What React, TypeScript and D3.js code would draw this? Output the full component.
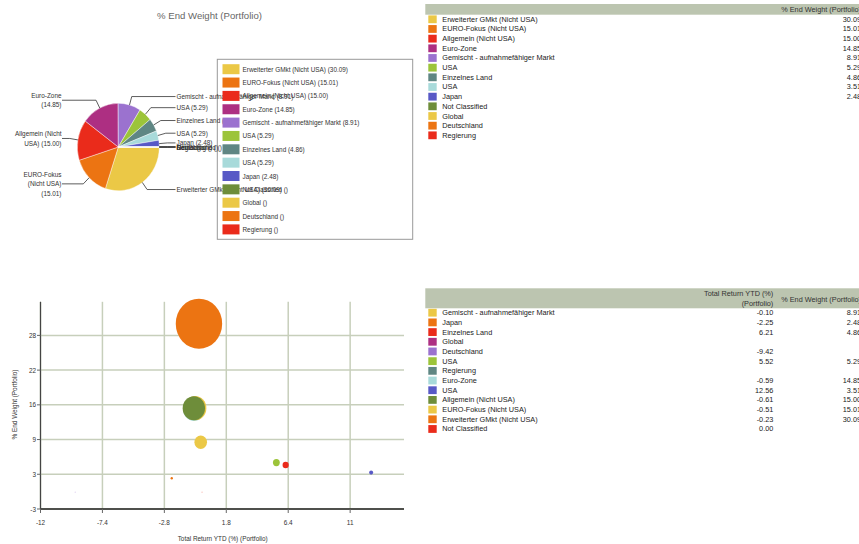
import React from 'react';
import * as d3 from 'd3';

// ---------- Data ----------
const pieNames = [
  'Erweiterter GMkt (Nicht USA)', 'EURO-Fokus (Nicht USA)', 'Allgemein (Nicht USA)', 'Euro-Zone',
  'Gemischt - aufnahmefähiger Markt', 'USA', 'Einzelnes Land', 'USA', 'Japan',
  'Not Classified', 'Global', 'Deutschland', 'Regierung',
];
const pieWeights = [30.09, 15.01, 15.0, 14.85, 8.91, 5.29, 4.86, 3.51, 2.48, 0, 0, 0, 0];
const pieLabelValues = ['30.09', '15.01', '15.00', '14.85', '8.91', '5.29', '4.86', '5.29', '2.48', '', '', '', ''];
const topTableValues = ['30.09', '15.01', '15.00', '14.85', '8.91', '5.29', '4.86', '3.51', '2.48', '', '', '', ''];
const palette = [
  '#ebc846', '#ec7412', '#ea2b1b', '#ad2f82', '#9b72cf', '#9cc43a', '#5f8683',
  '#a8dada', '#5859c6', '#6e8d3a', '#ebc846', '#ec7412', '#ea2b1b',
];

const scNames = [
  'Gemischt - aufnahmefähiger Markt', 'Japan', 'Einzelnes Land', 'Global', 'Deutschland', 'USA',
  'Regierung', 'Euro-Zone', 'USA', 'Allgemein (Nicht USA)', 'EURO-Fokus (Nicht USA)',
  'Erweiterter GMkt (Nicht USA)', 'Not Classified',
];
const scReturns: (number | null)[] = [-0.1, -2.25, 6.21, null, -9.42, 5.52, null, -0.59, 12.56, -0.61, -0.51, -0.23, 0.0];
const scWeights: (number | null)[] = [8.91, 2.48, 4.86, null, null, 5.29, null, 14.85, 3.51, 15.0, 15.01, 30.09, null];
const bubbleOrder = [7, 10, 9, 11, 0, 5, 2, 8, 1, 4, 12];

const xTicks = [-12, -7.4, -2.8, 1.8, 6.4, 11];
const xTickLabels = ['-12', '-7.4', '-2.8', '1.8', '6.4', '11'];
const yTicks = [-3, 3.2, 9.4, 15.6, 21.8, 28];
const yTickLabels = ['-3', '3', '9', '16', '22', '28'];

const FONT = "'Liberation Sans', Arial, sans-serif";

function measure(text: string, size: number) {
  const c = document.createElement('canvas').getContext('2d');
  if (!c) return text.length * size * 0.5;
  c.font = `${size}px ${FONT}`;
  return c.measureText(text).width;
}
function wrap(text: string, size: number, maxW: number) {
  const words = text.split(' ');
  const lines: string[] = [];
  let cur = '';
  for (const w of words) {
    const t = cur ? cur + ' ' + w : w;
    if (cur && measure(t, size) > maxW) {
      lines.push(cur);
      cur = w;
    } else cur = t;
  }
  if (cur) lines.push(cur);
  return lines;
}

const f2 = d3.formatLocale({ decimal: '.', thousands: ',', grouping: [3], currency: ['', ''], minus: '-' }).format('.2f');
function fmt2(v: number | null) {
  return v === null ? '' : f2(v);
}

export default function App() {
  // ---- Pie ----
  const cx = 118.3, cy = 147, R = 41, sy = 1.066;
  const pie = d3.pie<number>().sort(null).value((d) => d).startAngle(Math.PI / 2).endAngle(Math.PI / 2 + 2 * Math.PI);
  const arcs = pie(pieWeights);
  const arcGen = d3.arc<d3.PieArcDatum<number>>().innerRadius(0).outerRadius(R);
  const labelFs = 6.4;

  const leaders = arcs.map((a, i) => {
    const m = (a.startAngle + a.endAngle) / 2;
    const s = Math.sin(m), c = Math.cos(m);
    const p1 = [cx + R * s, cy - R * sy * c];
    const p2 = [cx + R * 1.2 * s, cy - R * 1.2 * sy * c];
    const right = s >= -1e-6;
    const text = `${pieNames[i]} (${pieLabelValues[i]})`;
    return { p1, p2, right, text, i };
  });

  // ---- Scatter ----
  const x = d3.scaleLinear().domain([-12, 15]).range([40.5, 404]);
  const y = d3.scaleLinear().domain([-3, 34]).range([509, 301.8]);
  const rScale = d3.scaleLinear().domain([0, 30.09]).range([-0.8, 23.2]);

  // ---- Tables ----
  const topRow = (i: number) => 19.3 + i * 9.67;
  const botRow = (i: number) => 312.7 + i * 9.69;
  const tFs = 7.3;

  return (
    <svg width={859} height={544} style={{ position: 'absolute', left: 0, top: 0, fontFamily: FONT }}>
      <rect x={0} y={0} width={859} height={544} fill="#fff" />
      {/* Title */}
      <text x={209.5} y={15} fontSize={9.6} fill="#666" textAnchor="middle" dominantBaseline="central">
        % End Weight (Portfolio)
      </text>

      {/* Pie */}
      <g transform={`translate(${cx},${cy}) scale(1,${sy})`}>
        {arcs.map((a, i) => (
          <path key={i} d={arcGen(a) || ''} fill={palette[i]} stroke="#fff" strokeWidth={0.4} />
        ))}
      </g>

      {/* Legend box background */}
      <rect x={217.3} y={59.3} width={195.4} height={180} fill="#fff" stroke="#999" strokeWidth={1} />

      {/* Leader lines + labels */}
      {leaders.map((l) => {
        const endX = l.right ? 175.5 : 62;
        const pts = `${l.p1[0]},${l.p1[1]} ${l.p2[0]},${l.p2[1]} ${endX},${l.p2[1]}`;
        if (l.right) {
          return (
            <g key={l.i}>
              <polyline points={pts} fill="none" stroke="#333" strokeWidth={0.8} />
              <text x={176.5} y={l.p2[1]} fontSize={labelFs} fill="#333" dominantBaseline="central">{l.text}</text>
            </g>
          );
        }
        const lines = wrap(l.text, labelFs, 49);
        const lh = 9.3;
        const top = l.p2[1] - ((lines.length - 1) * lh) / 2;
        return (
          <g key={l.i}>
            <polyline points={pts} fill="none" stroke="#333" strokeWidth={0.8} />
            {lines.map((t, k) => (
              <text key={k} x={61.5} y={top + k * lh} fontSize={labelFs} fill="#333" textAnchor="end" dominantBaseline="central">{t}</text>
            ))}
          </g>
        );
      })}

      {/* Legend items */}
      {pieNames.map((n, i) => {
        const yc = 69.2 + i * 13.35;
        return (
          <g key={i}>
            <rect x={222.5} y={yc - 5} width={17} height={10} fill={palette[i]} />
            <text x={242.5} y={yc} fontSize={labelFs} fill="#333" dominantBaseline="central">
              {`${n} (${pieLabelValues[i]})`}
            </text>
          </g>
        );
      })}

      {/* Top table */}
      <rect x={425.3} y={4} width={440} height={10.7} fill="#bcc5b0" />
      <text x={861} y={9.5} fontSize={tFs} fill="#333" textAnchor="end" dominantBaseline="central">% End Weight (Portfolio)</text>
      {pieNames.map((n, i) => (
        <g key={i}>
          <rect x={428.3} y={topRow(i) - 3.9} width={8.4} height={7.8} fill={palette[i]} />
          <text x={442.3} y={topRow(i)} fontSize={tFs} fill="#222" dominantBaseline="central">{n}</text>
          <text x={861} y={topRow(i)} fontSize={tFs} fill="#222" textAnchor="end" dominantBaseline="central">{topTableValues[i]}</text>
        </g>
      ))}

      {/* Bottom table */}
      <rect x={425.3} y={288.3} width={440} height={20} fill="#bcc5b0" />
      <text x={773.3} y={293.3} fontSize={tFs} fill="#333" textAnchor="end" dominantBaseline="central">Total Return YTD (%)</text>
      <text x={773.3} y={303.3} fontSize={tFs} fill="#333" textAnchor="end" dominantBaseline="central">(Portfolio)</text>
      <text x={861} y={299} fontSize={tFs} fill="#333" textAnchor="end" dominantBaseline="central">% End Weight (Portfolio)</text>
      {scNames.map((n, i) => (
        <g key={i}>
          <rect x={428.3} y={botRow(i) - 3.9} width={8.4} height={7.8} fill={palette[i]} />
          <text x={442.3} y={botRow(i)} fontSize={tFs} fill="#222" dominantBaseline="central">{n}</text>
          <text x={773.3} y={botRow(i)} fontSize={tFs} fill="#222" textAnchor="end" dominantBaseline="central">{fmt2(scReturns[i])}</text>
          <text x={861} y={botRow(i)} fontSize={tFs} fill="#222" textAnchor="end" dominantBaseline="central">{fmt2(scWeights[i])}</text>
        </g>
      ))}

      {/* Scatter grid */}
      {xTicks.map((t, i) => (
        <line key={'gx' + i} x1={x(t)} x2={x(t)} y1={y.range()[1]} y2={y.range()[0]} stroke="#c7cfbb" strokeWidth={1.5} />
      ))}
      {yTicks.map((t, i) => (
        <line key={'gy' + i} x1={x.range()[0]} x2={x.range()[1]} y1={y(t)} y2={y(t)} stroke="#c7cfbb" strokeWidth={1.5} />
      ))}

      {/* Bubbles */}
      {bubbleOrder.map((i) => {
        const xv = scReturns[i];
        if (xv === null) return null;
        const w = scWeights[i];
        const yv = w === null ? 0 : w;
        const r = w === null ? 0.6 : Math.max(0.9, rScale(w));
        return (
          <ellipse key={i} cx={x(xv)} cy={y(yv)} rx={r} ry={r * 1.08} fill={palette[i]} opacity={w === null ? 0.35 : 1} />
        );
      })}

      {/* Axes */}
      <line x1={x.range()[0]} x2={x.range()[1]} y1={509} y2={509} stroke="#222" strokeWidth={1.3} />
      <line x1={40.5} x2={40.5} y1={y.range()[1]} y2={509} stroke="#444" strokeWidth={1.2} />
      {xTicks.map((t, i) => (
        <g key={'tx' + i}>
          <line x1={x(t)} x2={x(t)} y1={509} y2={513} stroke="#666" strokeWidth={1} />
          <text x={x(t)} y={522.3} fontSize={6.4} fill="#333" textAnchor="middle" dominantBaseline="central">{xTickLabels[i]}</text>
        </g>
      ))}
      {yTicks.map((t, i) => (
        <g key={'ty' + i}>
          <line x1={37} x2={40.5} y1={y(t)} y2={y(t)} stroke="#666" strokeWidth={1} />
          <text x={36} y={y(t)} fontSize={6.4} fill="#333" textAnchor="end" dominantBaseline="central">{yTickLabels[i]}</text>
        </g>
      ))}
      <text x={222.7} y={538.3} fontSize={6.4} fill="#333" textAnchor="middle" dominantBaseline="central">Total Return YTD (%) (Portfolio)</text>
      <text transform="translate(14,404.5) rotate(-90)" fontSize={6.4} fill="#333" textAnchor="middle" dominantBaseline="central">% End Weight (Portfolio)</text>
    </svg>
  );
}
